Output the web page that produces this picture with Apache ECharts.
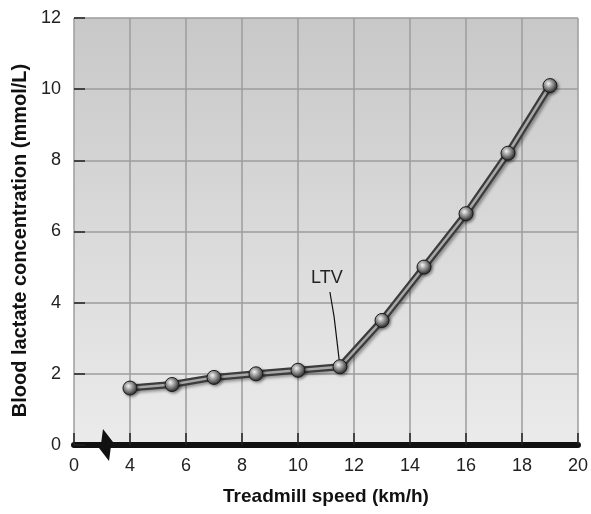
<!DOCTYPE html>
<html><head><meta charset="utf-8">
<script src="https://cdn.jsdelivr.net/npm/echarts@6/dist/echarts.min.js"></script>
<style>html,body{margin:0;padding:0;background:#fff}#c{width:591px;height:514px}</style>
</head><body><div id="c"></div>
<script>
// Data
const speeds = [4, 5.5, 7, 8.5, 10, 11.5, 13, 14.5, 16, 17.5, 19];
const lactate = [1.6, 1.7, 1.9, 2.0, 2.1, 2.2, 3.5, 5.0, 6.5, 8.2, 10.1];
// Axis: the "0" label sits where 2 would be (broken axis)
const xTickLabels = {2: '0', 4: '4', 6: '6', 8: '8', 10: '10', 12: '12', 14: '14', 16: '16', 18: '18', 20: '20'};
const ltvLabel = 'LTV';
const ltvLeader = [[11.14, 4.3], [11.29, 3.6], [11.47, 2.4]];

const pts = speeds.map((s, i) => [s, lactate[i]]);
const font = 'Liberation Sans, Arial, Helvetica, sans-serif';
const chart = echarts.init(document.getElementById('c'));
chart.setOption({
  animation: false,
  grid: {left: 74, right: 13, top: 18, bottom: 69, show: true, borderWidth: 0,
    backgroundColor: {type: 'linear', x: 0, y: 0, x2: 0, y2: 1,
      colorStops: [{offset: 0, color: '#c8c8c8'}, {offset: 1, color: '#ebebeb'}]}},
  xAxis: {type: 'value', min: 2, max: 20, interval: 2,
    name: 'Treadmill speed (km/h)', nameLocation: 'middle', nameGap: 42,
    nameTextStyle: {fontFamily: font, fontSize: 19, fontWeight: 'bold', color: '#111'},
    axisLine: {show: true, onZero: false, lineStyle: {color: '#111', width: 6}},
    axisTick: {show: true, inside: true, length: 12, lineStyle: {color: '#222', width: 1.5}},
    axisLabel: {fontFamily: font, fontSize: 18, color: '#222', margin: 12,
      formatter: v => xTickLabels[v] !== undefined ? xTickLabels[v] : ''},
    splitLine: {show: true, lineStyle: {color: '#9c9c9c', width: 1.5}}},
  yAxis: {type: 'value', min: 0, max: 12, interval: 2,
    name: 'Blood lactate concentration (mmol/L)', nameLocation: 'middle', nameGap: 40,
    nameTextStyle: {fontFamily: font, fontSize: 20, fontWeight: 'bold', color: '#111', padding: [0, 18, 0, 0]},
    axisLine: {show: false},
    axisTick: {show: true, inside: true, length: 11, lineStyle: {color: '#222', width: 1.5}},
    axisLabel: {fontFamily: font, fontSize: 18, color: '#222', margin: 13},
    splitLine: {show: true, lineStyle: {color: '#9c9c9c', width: 1.5}}},
  series: [
    {type: 'line', data: pts, showSymbol: false, z: 2,
      lineStyle: {color: '#3c3c3c', width: 7, shadowColor: 'rgba(0,0,0,0.35)', shadowBlur: 3, shadowOffsetX: 2, shadowOffsetY: 2}},
    {type: 'line', data: pts, z: 3, symbol: 'circle', symbolSize: 14, showSymbol: true,
      lineStyle: {color: '#a8a8a8', width: 2.5},
      itemStyle: {borderColor: '#1a1a1a', borderWidth: 1,
        color: {type: 'radial', x: 0.38, y: 0.35, r: 0.75,
          colorStops: [{offset: 0, color: '#ffffff'}, {offset: 0.3, color: '#b0b0b0'}, {offset: 0.75, color: '#444'}, {offset: 1, color: '#1a1a1a'}]},
        shadowColor: 'rgba(0,0,0,0.4)', shadowBlur: 3, shadowOffsetX: 1.5, shadowOffsetY: 1.5}},
    {type: 'line', data: ltvLeader, z: 4, showSymbol: false, symbol: 'none',
      lineStyle: {color: '#111', width: 1.2},
      markPoint: {symbol: 'circle', symbolSize: 1, itemStyle: {color: 'rgba(0,0,0,0)'},
        data: [{coord: ltvLeader[0], label: {show: true, formatter: ltvLabel, position: 'top', distance: 4, offset: [-3, 0],
          fontFamily: font, fontSize: 18, color: '#222'}}]}}
  ]
});
// axis break glyph, positioned via the axis scale
const c = chart.convertToPixel({gridIndex: 0}, [3, 0]);
const bx = c[0] + 4, by = c[1];
chart.setOption({graphic: [{type: 'polygon', z: 100,
  shape: {points: [[bx - 3, by - 16], [bx + 7, by - 3], [bx + 5, by + 1], [bx + 3, by + 16], [bx - 7, by + 3], [bx - 5, by - 1]]},
  style: {fill: '#111'}}]});
</script></body></html>
